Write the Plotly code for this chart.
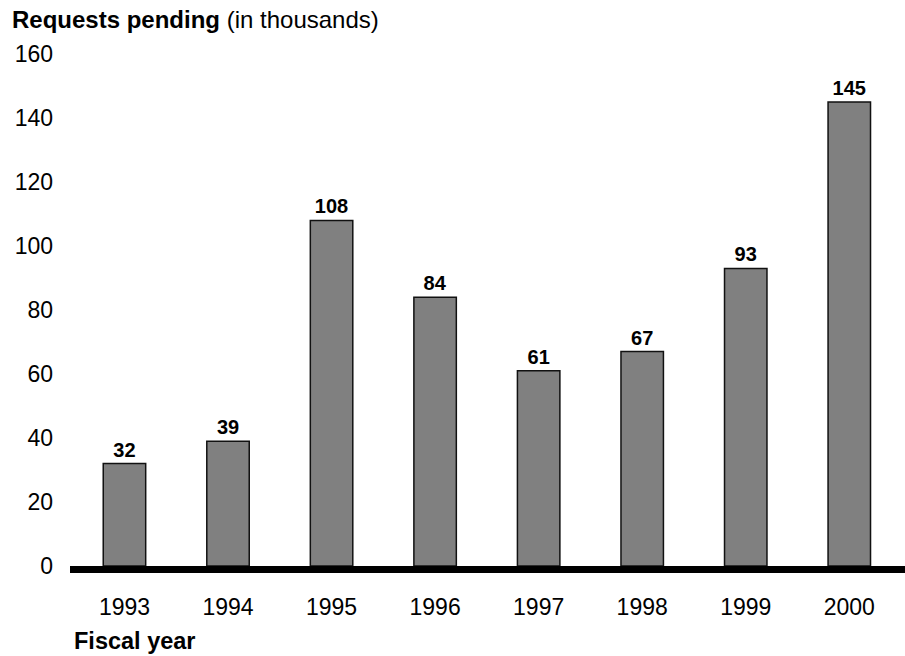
import plotly.graph_objects as go

years = ["1993", "1994", "1995", "1996", "1997", "1998", "1999", "2000"]
pending = [32, 39, 108, 84, 61, 67, 93, 145]
y_ticks = [0, 20, 40, 60, 80, 100, 120, 140, 160]

FONT = "Liberation Sans, Arial, Helvetica, sans-serif"

fig = go.Figure()
fig.add_trace(go.Bar(
    x=years, y=pending,
    width=0.41,
    marker=dict(color="#808080", line=dict(color="#111111", width=1.5)),
    text=[f"<b>{v}</b>" for v in pending],
    textposition="outside",
    textfont=dict(size=20, color="black", family=FONT),
    cliponaxis=False,
    hoverinfo="skip",
))

fig.update_layout(
    width=905, height=656,
    margin=dict(l=70, r=0, t=54, b=90),
    paper_bgcolor="white", plot_bgcolor="white",
    font=dict(family=FONT, size=23, color="black"),
    showlegend=False,
    title=dict(
        text="<b>Requests pending</b> <span style='font-weight:normal'>(in thousands)</span>",
        x=12/905, xanchor="left", xref="container",
        y=1 - 20/656, yanchor="middle", yref="container",
        font=dict(size=24, color="black", family=FONT),
    ),
    xaxis=dict(
        type="category",
        range=[-0.526, 7.538],
        showgrid=False, zeroline=False,
        showline=True, linecolor="black", linewidth=7,
        ticks="", ticklabelstandoff=14,
        tickfont=dict(size=23),
    ),
    yaxis=dict(
        range=[0, 160],
        tickvals=y_ticks,
        showgrid=False, zeroline=False, showline=False,
        ticks="", ticklabelstandoff=16,
        tickfont=dict(size=23),
    ),
    annotations=[dict(
        text="<b>Fiscal year</b>",
        xref="paper", yref="paper",
        x=(72 - 70) / 835, y=(566 - 641) / 512,
        xanchor="left", yanchor="middle",
        showarrow=False, font=dict(size=23.5, color="black", family=FONT),
    )],
)

fig.write_html("out.html")
